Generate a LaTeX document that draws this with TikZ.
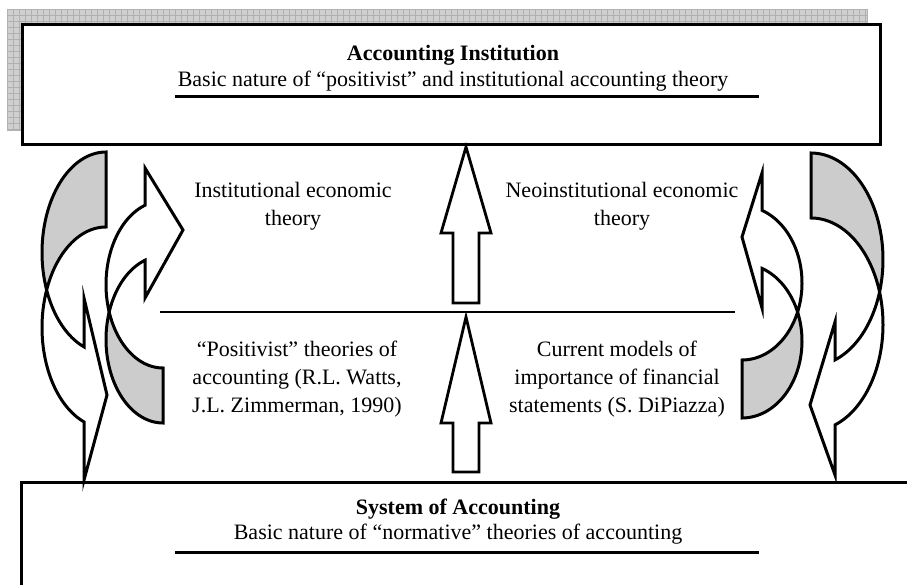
\documentclass[tikz,border=0pt]{standalone}
\usepackage{fontspec}
\setmainfont{Liberation Serif}
\begin{document}
\begin{tikzpicture}[x=1pt,y=-1pt,
  shp/.style={draw=black,line width=3pt,line join=miter,miter limit=10},
  backpart/.style={shp,fill=gray!40},
  frontpart/.style={shp,fill=white},
  lbl/.style={font=\fontsize{22}{28}\selectfont,align=center,inner sep=0pt},
  boxlbl/.style={font=\fontsize{22}{26.5}\selectfont,align=center,inner sep=0pt},
  heavy/.style={draw=black,line width=3pt},
  uparrow/.style={draw=black,line width=2.8pt,fill=white,line join=miter}]
\useasboundingbox (0,0) rectangle (907,585);
\fill[white] (0,0) rectangle (907,585);
% shadow of the top box
\fill[gray!38] (7,9) rectangle (867,130);
\foreach \i in {0,...,143} {\draw[gray!62,line width=0.45pt] ({7+6*\i},9) -- ({7+6*\i},130);}
\foreach \j in {0,...,20} {\draw[gray!62,line width=0.45pt] (7,{9+6*\j}) -- (867,{9+6*\j});}
\draw[gray!60,line width=0.6pt] (7,9) rectangle (867,130);
% top box
\node[heavy,fill=white,minimum width=858pt,minimum height=120pt,inner sep=0pt,outer sep=0pt] (topbox) at (451,85) {};
\node[boxlbl] (toptext) at (453,68) {\textbf{Accounting Institution}\\Basic nature of “positivist” and institutional accounting theory};
\coordinate (tulA) at (175,97);
\coordinate (tulB) at (759,97);
\draw[heavy] (tulA) -- (tulB);
% bottom box
\draw[heavy,fill=white] (21,482) rectangle (960,640);
\node[boxlbl,font=\fontsize{22}{25}\selectfont] (bottext) at (458,521.5) {\textbf{System of Accounting}\\Basic nature of “normative” theories of accounting};
\coordinate (bulA) at (175,552);
\coordinate (bulB) at (759,552);
\draw[heavy] (bulA) -- (bulB);
% middle line
\coordinate (midA) at (160,312);
\coordinate (midB) at (735,312);
\draw[draw=black,line width=2.8pt] (midA) -- (midB);
% up arrows
\draw[uparrow] (466,147) -- (491,233) -- (479,233) -- (479,303) -- (453,303) -- (453,233) -- (441,233) -- cycle;
\draw[uparrow] (466,317) -- (491,423) -- (479,423) -- (479,472) -- (453,472) -- (453,423) -- (441,423) -- cycle;
% labels
\node[lbl] (ie) at (293,206) {Institutional economic\\theory};
\node[lbl] (nie) at (622,206) {Neoinstitutional economic\\theory};
\node[lbl] (pos) at (297,379) {“Positivist” theories of\\accounting (R.L. Watts,\\J.L. Zimmerman, 1990)};
\node[lbl] (cur) at (617,379) {Current models of\\importance of financial\\statements (S. DiPiazza)};
% left outer curved arrow
\draw[backpart] plot[domain=270:158.1,samples=40] ({106+64*cos(\x)},{252.5+100.5*sin(\x)})
  -- plot[domain=201.9:270,samples=40] ({106+64*cos(\x)},{327.5+100.5*sin(\x)}) -- cycle;
\draw[frontpart] plot[domain=201.9:110.1,samples=40] ({106+64*cos(\x)},{327.5+100.5*sin(\x)})
  -- (84,480) -- (107,395) -- (84,298)
  -- plot[domain=110.1:158.1,samples=30] ({106+64*cos(\x)},{252.5+100.5*sin(\x)}) -- cycle;
% left inner curved arrow
\draw[backpart] plot[domain=90:199.2,samples=40] ({163+57*cos(\x)},{339.5+83.5*sin(\x)})
  -- plot[domain=160.8:90,samples=40] ({163+57*cos(\x)},{284.5+83.5*sin(\x)}) -- cycle;
\draw[frontpart] plot[domain=160.8:251.6,samples=40] ({163+57*cos(\x)},{284.5+83.5*sin(\x)})
  -- (145,168) -- (183,230) -- (145,298)
  -- plot[domain=251.6:199.2,samples=30] ({163+57*cos(\x)},{339.5+83.5*sin(\x)}) -- cycle;
% right outer curved arrow
\draw[backpart] plot[domain=-90:17.8,samples=40] ({811+72*cos(\x)},{259.5+106.5*sin(\x)})
  -- plot[domain=-17.8:-90,samples=40] ({811+72*cos(\x)},{324.5+106.5*sin(\x)}) -- cycle;
\draw[frontpart] plot[domain=-17.8:70.5,samples=40] ({811+72*cos(\x)},{324.5+106.5*sin(\x)})
  -- (835,475) -- (810,405) -- (835,322)
  -- plot[domain=70.5:17.8,samples=30] ({811+72*cos(\x)},{259.5+106.5*sin(\x)}) -- cycle;
% right inner curved arrow
\draw[backpart] plot[domain=90:-22.1,samples=40] ({742+60*cos(\x)},{341+77*sin(\x)})
  -- plot[domain=22.1:90,samples=40] ({742+60*cos(\x)},{283+77*sin(\x)}) -- cycle;
\draw[frontpart] plot[domain=22.1:-70.5,samples=40] ({742+60*cos(\x)},{283+77*sin(\x)})
  -- (762,173) -- (742,237) -- (762,308)
  -- plot[domain=-70.5:-22.1,samples=30] ({742+60*cos(\x)},{341+77*sin(\x)}) -- cycle;
\end{tikzpicture}
\end{document}
